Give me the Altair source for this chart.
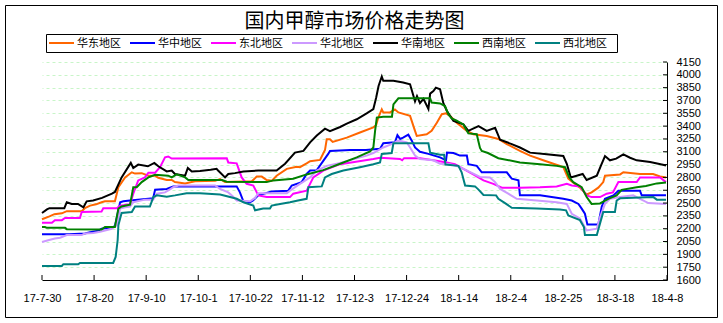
import altair as alt
import pandas as pd

TITLE = "国内甲醇市场价格走势图"
SERIES = ["华东地区", "华中地区", "东北地区", "华北地区", "华南地区", "西南地区", "西北地区"]
COLORS = ["#FF6600", "#0000FF", "#FF00FF", "#CC99FF", "#000000", "#008000", "#008080"]
X_TICK_DAYS = [0, 21, 42, 63, 84, 105, 126, 147, 168, 189, 210, 231, 252]
X_TICK_LABELS = ["17-7-30", "17-8-20", "17-9-10", "17-10-1", "17-10-22", "17-11-12", "17-12-3",
                 "17-12-24", "18-1-14", "18-2-4", "18-2-25", "18-3-18", "18-4-8"]
Y_TICKS = list(range(1600, 4151, 150))

# (days since 2017-07-30, price)
HD = [(0,2310),(3,2345),(5,2370),(8,2380),(10,2405),(16,2405),(17.3,2440),(19.4,2470),(21.8,2485),(24,2510),
      (25.4,2520),(29.4,2520),(30.8,2685),(33.5,2800),(36.2,2860),(37.5,2845),(40.2,2850),(42.9,2820),(45.6,2820),
      (46.9,2795),(50.3,2770),(52.3,2770),(53.6,2745),(57.7,2730),(61.7,2755),(69.8,2760),(71.8,2780),(73.8,2745),
      (84.6,2755),(86.6,2810),(88.6,2810),(90.6,2770),(92.6,2760),(94.6,2820),(98.7,2900),(102.7,2925),(104,2920),
      (106.7,2965),(108.1,2990),(112.1,3005),(114.1,3120),(114.8,3245),(116.1,3245),(117.2,3215),(122.9,3265),
      (128.2,3325),(133.6,3385),(134.7,3410),(135.6,3500),(137,3595),(137.6,3560),(140.3,3560),(142.3,3595),
      (143.7,3560),(148.4,3520),(150.4,3345),(151.1,3285),(155.1,3305),(157.1,3345),(159.2,3440),(161.2,3540),
      (162.9,3550),(164.5,3520),(167.2,3440),(171.3,3345),(173.9,3305),(179.3,3285),(184,3250),(187.4,3190),
      (192.7,3110),(196.8,3055),(202.1,3000),(206.2,2960),(210.2,2920),(212.2,2785),(214.1,2740),(216.9,2680),
      (219.6,2600),(221.6,2625),(224.3,2680),(226.3,2745),(227,2820),(233.1,2835),(234.4,2860),(241.1,2840),
      (246.4,2840),(249.2,2810),(251.6,2800)]
HZ = [(0,2135),(11,2135),(17.3,2145),(19.4,2160),(22.7,2175),(24,2200),(28.1,2215),(29.4,2230),(31.5,2510),
      (32.8,2520),(35.5,2530),(42.9,2550),(44.8,2555),(45.6,2655),(50.3,2665),(51.6,2680),(52.9,2695),(78.5,2695),
      (79.8,2625),(81.2,2520),(83.9,2510),(85.1,2530),(87.2,2590),(92.6,2635),(99.3,2645),(100.7,2705),(104.7,2745),
      (106.7,2840),(108.1,2880),(110.8,2885),(115.4,3075),(116.1,3110),(124.2,3120),(130.6,3120),(136.3,3135),
      (137.6,3200),(142.3,3210),(143.3,3295),(144.4,3250),(145.6,3265),(147.7,3300),(149.1,3230),(150.4,3150),
      (152.4,3100),(155.8,3075),(160.5,3035),(162.9,3000),(163.3,3090),(165.9,3085),(168.5,3055),(171.3,3055),
      (171.9,2955),(175.3,2935),(177.3,2860),(187.4,2860),(189.4,2785),(192.1,2765),(192.7,2590),(200.8,2590),
      (210.2,2550),(213.6,2530),(216.3,2490),(217.6,2435),(218.9,2375),(219.9,2250),(224.3,2250),(225.7,2460),
      (227,2550),(230.4,2590),(232.4,2645),(241.1,2645),(241.8,2590),(251.6,2590)]
DB = [(0,2270),(4,2270),(5.2,2300),(8,2300),(9.3,2325),(15.3,2325),(16,2395),(24,2400),(24.7,2440),(30.1,2440),
      (31.5,2470),(35.5,2485),(36.8,2610),(38.8,2765),(41.5,2800),(42.9,2855),(45.6,2855),(47.6,2920),(49.6,3035),
      (50.9,3045),(52.3,3020),(74.5,3025),(75.1,2975),(78.5,2965),(80.5,2800),(82.5,2725),(85.2,2705),(87.2,2590),
      (90.6,2570),(100,2570),(101.3,2610),(106.7,2645),(109.4,2800),(113.4,2880),(120.2,2955),(133.6,3015),
      (136.3,3030),(144.4,3015),(145.2,3000),(146,3025),(152.4,3025),(157.8,3000),(163.2,2975),(166.5,2955),
      (169.9,2900),(173.9,2835),(178,2765),(182,2725),(185.4,2680),(192.7,2680),(200.8,2685),(207.5,2695),
      (211.6,2725),(213.6,2705),(216.9,2695),(219.6,2590),(221.6,2570),(225,2570),(227.7,2610),(230.2,2625),
      (232.4,2745),(239.8,2745),(241.1,2800),(249.2,2800),(251.6,2745)]
HB = [(0,2045),(2.5,2065),(5.2,2085),(7.3,2095),(10,2125),(16,2125),(17.3,2145),(20.7,2150),(23.4,2165),
      (25.4,2180),(28.1,2200),(30.1,2240),(31.5,2435),(33.5,2450),(35.5,2460),(36.8,2510),(41.5,2540),(44.8,2540),
      (46.3,2610),(49.6,2625),(51.6,2660),(52.9,2685),(55,2705),(69.8,2705),(71.8,2665),(75.1,2625),(77.1,2575),
      (78.5,2530),(83.9,2520),(85.9,2560),(87.2,2615),(98.7,2615),(100,2645),(104,2725),(108.1,2800),(110.8,2880),
      (114.8,2935),(120.2,2970),(130.9,3055),(133.6,3085),(137.6,3150),(141,3190),(143.7,3230),(147.1,3210),
      (148.4,3150),(150.4,3055),(152.4,3015),(157.8,3000),(160.5,2960),(164.5,2955),(168.5,2920),(173.9,2845),
      (176.6,2805),(180.6,2800),(182.7,2745),(184.7,2665),(188,2610),(191.4,2550),(199.5,2530),(207.5,2510),
      (211.6,2490),(213.6,2375),(216.9,2320),(219.6,2180),(223.7,2200),(225,2335),(227,2490),(229,2550),
      (233.1,2570),(238.4,2590),(241.1,2550),(244.5,2500),(251.6,2490)]
HN = [(0,2383),(2,2426),(3,2440),(9,2440),(10,2510),(12,2490),(14.5,2490),(16.7,2450),(18,2520),(20.6,2530),
      (24.2,2560),(28.2,2610),(29.4,2630),(32.1,2800),(35.8,2970),(36.8,2910),(38.8,2950),(42.7,2930),(45.3,2970),
      (46.9,2930),(50.3,2870),(52.3,2880),(53.6,2840),(57.7,2820),(58.8,2910),(60.4,2870),(63.7,2875),(68,2890),
      (70.4,2900),(71,2880),(73.8,2800),(75.1,2840),(77.8,2850),(81.2,2870),(87.2,2880),(94.6,2880),(98,2960),
      (102,3090),(105.4,3110),(108.1,3210),(110.8,3290),(114.1,3370),(116.1,3340),(120.2,3390),(122.9,3430),
      (126.9,3480),(130.9,3550),(133.6,3600),(134.7,3730),(135.7,3870),(137,3980),(137.6,3930),(141.7,3930),
      (145.6,3910),(148.4,3890),(150.4,3690),(151.2,3750),(152.4,3670),(153.8,3720),(155.8,3600),(156.5,3780),
      (157.8,3810),(158.8,3850),(160.5,3830),(161.8,3670),(163.2,3580),(165.9,3460),(169.9,3420),(171.9,3345),
      (176,3400),(179.3,3345),(182.7,3380),(184.7,3240),(189.4,3190),(192.7,3150),(196.8,3090),(203.5,3070),
      (210.2,3050),(211.6,2960),(213.2,2800),(218,2840),(219.6,2770),(223.7,2820),(225.4,2940),(227,3050),
      (229,3000),(231.5,3020),(234.4,3070),(237.1,3030),(239.8,3000),(245.2,2980),(249.9,2950),(251.6,2940)]
XN = [(0,2220),(1.2,2220),(1.9,2210),(9.3,2210),(10,2195),(24,2190),(25.4,2220),(29.4,2220),(30.8,2435),
      (32.1,2460),(35.5,2480),(36.8,2685),(38.2,2685),(40.2,2745),(42.9,2800),(45.6,2830),(50.9,2820),(52.3,2800),
      (54.3,2835),(57.7,2800),(59,2770),(72.6,2770),(74.5,2750),(90.6,2745),(93.3,2765),(101.3,2785),(106.7,2835),
      (113.4,2885),(120.2,2960),(126.9,3035),(132.3,3105),(133.6,3150),(134.3,3345),(135,3500),(137.6,3510),
      (141.1,3510),(141.7,3655),(143.7,3725),(156.5,3725),(157.1,3675),(160.5,3665),(162.5,3635),(163.8,3540),
      (165.2,3490),(167.2,3465),(169.9,3420),(171.9,3315),(175.3,3305),(175.9,3230),(176.6,3145),(177.3,3110),
      (179.8,3085),(184,3025),(192.7,2975),(200.8,2955),(207.5,2935),(210.9,2920),(212.6,2800),(214.2,2745),
      (217.6,2685),(219.6,2570),(221.6,2490),(225,2495),(228.3,2550),(231.7,2590),(233.7,2655),(239.8,2685),
      (243.5,2700),(247.9,2730),(251.6,2740)]
XB = [(0,1765),(8,1765),(8.6,1785),(14.6,1785),(15.3,1800),(28.7,1800),(29.7,1870),(30.5,2065),(30.8,2240),
      (31.5,2320),(32.1,2385),(36.2,2395),(37.5,2460),(43.5,2460),(44.9,2570),(46.3,2590),(50.3,2575),(53.6,2590),
      (58.3,2615),(63.7,2615),(71.8,2600),(75.8,2570),(78.5,2550),(81.2,2510),(85.2,2470),(85.9,2415),(89.2,2435),
      (91.9,2435),(92.6,2470),(96,2490),(100,2510),(103.2,2530),(106.7,2550),(107.4,2685),(112.8,2695),(114.1,2800),
      (116.8,2840),(121.5,2880),(128.2,2920),(133.6,2955),(136.3,2975),(137,3075),(141,3085),(141.7,3200),
      (155.8,3200),(156.5,3090),(160.5,3065),(162.1,3065),(162.7,2950),(167.9,2935),(169.2,2860),(170.6,2705),
      (174.6,2695),(175.9,2660),(178,2595),(183.1,2590),(184,2550),(186.7,2500),(189.4,2445),(199.5,2435),
      (208.9,2425),(211.3,2415),(212.2,2355),(216.9,2300),(218.5,2220),(218.9,2125),(223.7,2125),(225,2260),
      (226.3,2395),(231,2395),(231.7,2530),(233.1,2555),(246.5,2570),(247.9,2540),(251.6,2540)]
DATA = [HD, HZ, DB, HB, HN, XN, XB]

rows = []
for name, color, pts in zip(SERIES, COLORS, DATA):
    for d, v in pts:
        rows.append({"series": name, "color": color, "day": d, "value": v})
df = pd.DataFrame(rows)

W, H = 625, 218
FONT = "Noto Sans CJK SC"
NUMFONT = "Liberation Sans"
xscale = alt.Scale(domain=[0, 252], nice=False, zero=False)
yscale = alt.Scale(domain=[1600, 4150], nice=False, zero=False)
label_expr = "[" + ",".join("'%s'" % l for l in X_TICK_LABELS) + "][round(datum.value / 21)]"
one = pd.DataFrame({"k": [0]})

xaxis = alt.Axis(values=X_TICK_DAYS, labelExpr=label_expr, ticks=False, grid=False, domainColor="black",
                 labelColor="black", labelFont=NUMFONT, labelFontSize=11, labelPadding=12, labelFlush=False,
                 labelOverlap=False, title=None)
yaxis = alt.Axis(orient="right", values=Y_TICKS, format="d", ticks=False, grid=True, gridColor="#C8F5C8",
                 gridDash=[3, 3], gridWidth=1, domainColor="black", labelColor="black", labelFont=NUMFONT,
                 labelFontSize=11, labelPadding=9, labelFlush=False, labelOverlap=False,
                 labelBaseline="middle", title=None)

lines = alt.Chart(df).mark_line(strokeWidth=2).encode(
    x=alt.X("day:Q", scale=xscale, axis=xaxis),
    y=alt.Y("value:Q", scale=yscale, axis=yaxis),
    color=alt.Color("color:N", scale=None),
    detail="series:N",
)

xt = alt.Chart(pd.DataFrame({"day": X_TICK_DAYS})).mark_rule(color="black").encode(
    x=alt.X("day:Q", scale=xscale, axis=xaxis), y=alt.value(H - 5), y2=alt.value(H))
yt = alt.Chart(pd.DataFrame({"value": Y_TICKS})).mark_rule(color="black").encode(
    y=alt.Y("value:Q", scale=yscale, axis=yaxis), x=alt.value(W - 4), x2=alt.value(W))

layers = [lines, xt, yt]

# legend box and entries
layers.append(alt.Chart(one).mark_rect(fill="white", fillOpacity=0, stroke="black", strokeWidth=1).encode(
    x=alt.value(4.5), x2=alt.value(575.5), y=alt.value(-27.5), y2=alt.value(-9.5)))
for i, (name, color) in enumerate(zip(SERIES, COLORS)):
    x0 = 7 + i * 81
    layers.append(alt.Chart(one).mark_rule(color=color, strokeWidth=2).encode(
        x=alt.value(x0), x2=alt.value(x0 + 25), y=alt.value(-19)))
    layers.append(alt.Chart(one).mark_text(text=name, font=FONT, fontSize=11, align="left",
                                           baseline="middle", color="black").encode(
        x=alt.value(x0 + 28), y=alt.value(-18.5)))

# title
layers.append(alt.Chart(one).mark_text(text=TITLE, font=FONT, fontSize=20, align="center",
                                       baseline="middle", color="black").encode(
    x=alt.value(312.5), y=alt.value(-40)))

# outer frame
layers.append(alt.Chart(one).mark_rect(fill="white", fillOpacity=0, stroke="black", strokeWidth=1).encode(
    x=alt.value(-36.5), x2=alt.value(675.5), y=alt.value(-56.5), y2=alt.value(255.5)))

chart = alt.layer(*layers).properties(
    width=W, height=H,
    padding={"left": 42, "top": 62, "right": 56, "bottom": 43},
    autosize=alt.AutoSizeParams(type="none"),
    background="white",
).configure_view(strokeWidth=0)

chart.save("out.html", embed_options={"renderer": "svg", "actions": False})
